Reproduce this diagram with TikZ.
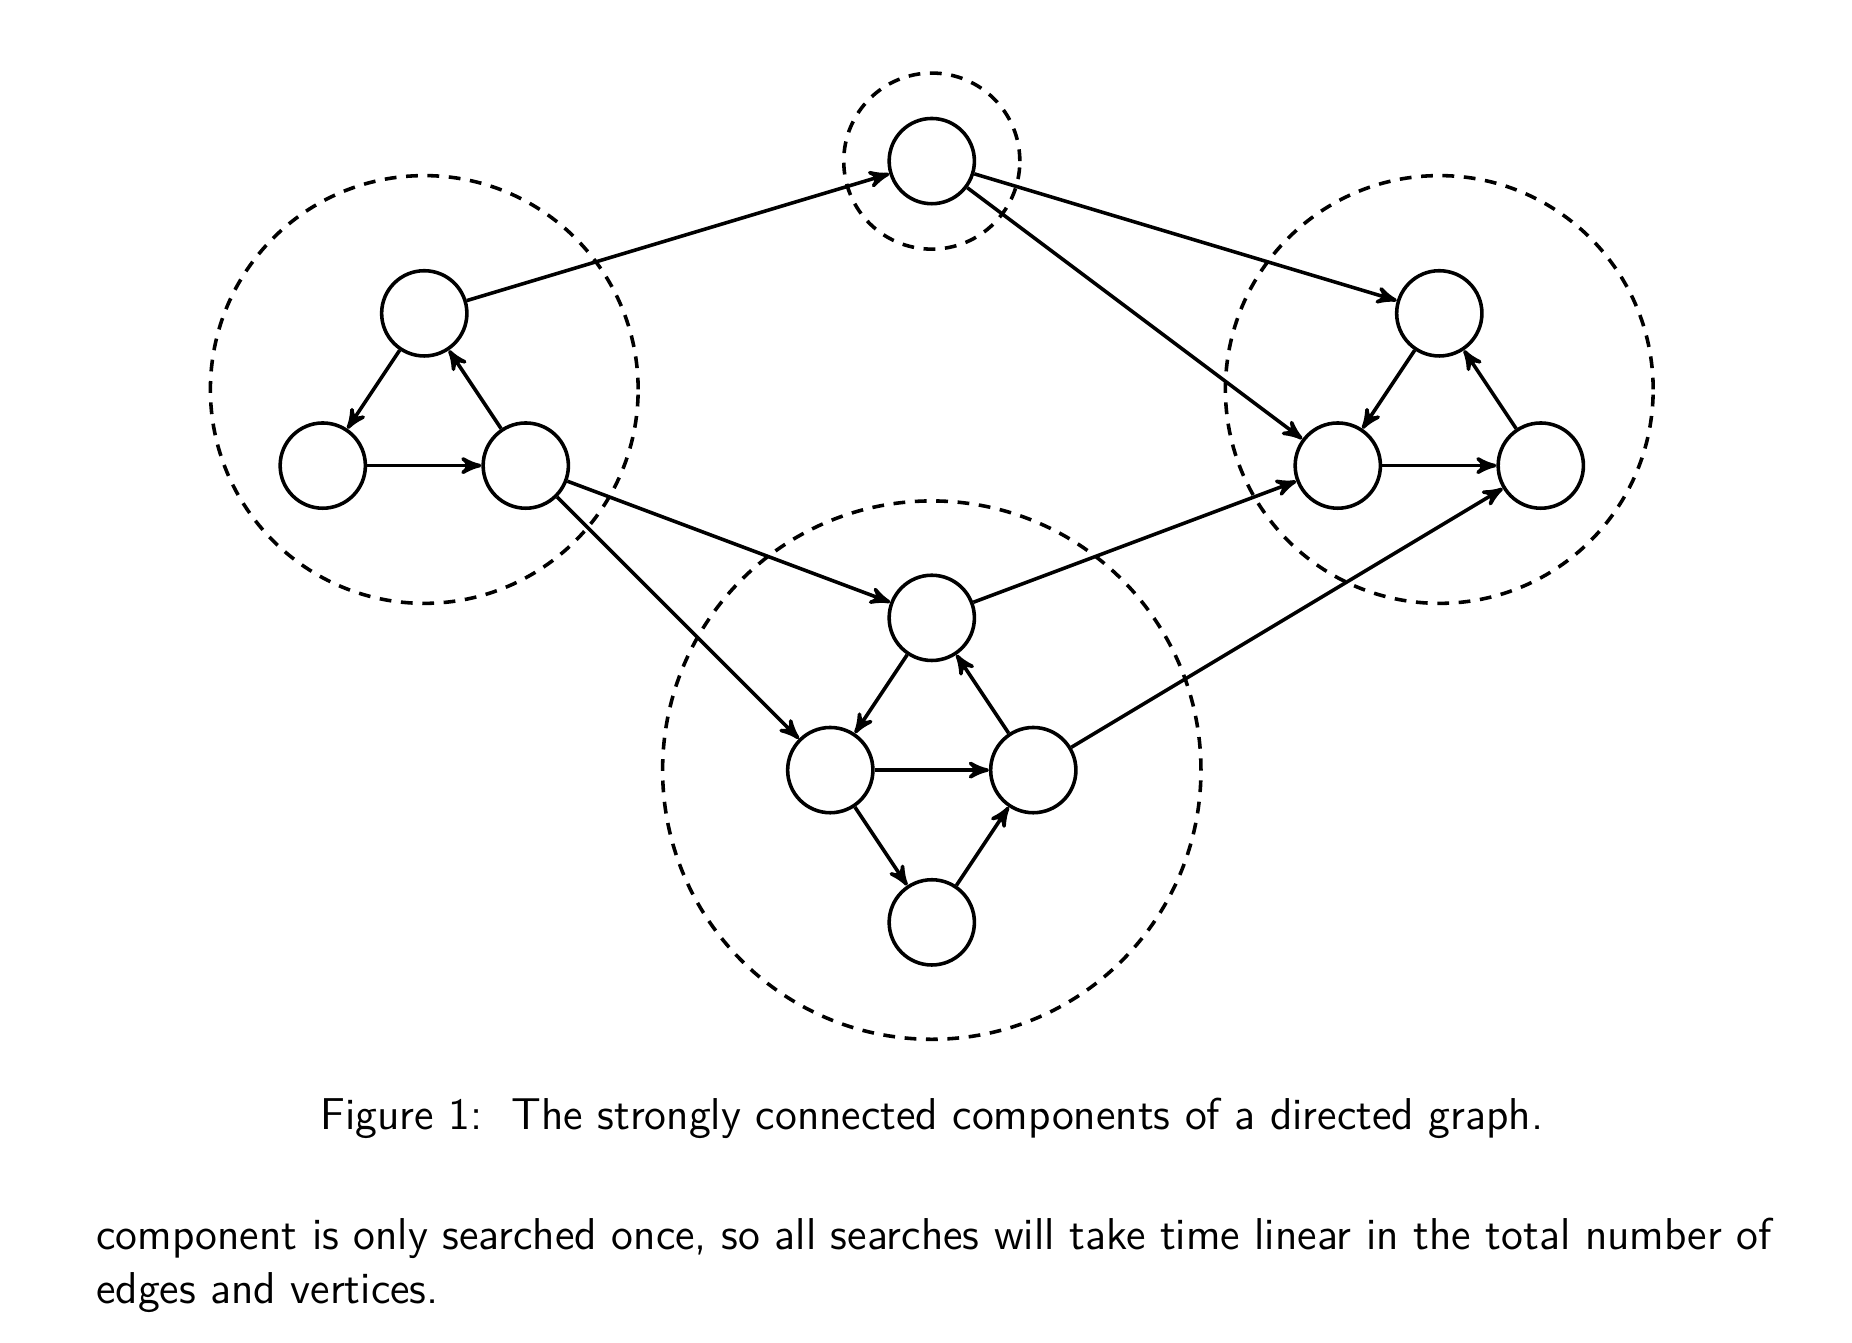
\documentclass[tikz,border=0pt]{standalone}
\usepackage{fontspec}
\usepackage{tikz}
\usetikzlibrary{arrows,positioning,fit}

\begin{document}
\begin{tikzpicture}[%
    >=stealth',                  % small filled arrow heads
    node distance=1.5cm and 1cm, % spacing inside one component
    line width=1pt,
    every node/.style={font=\sffamily\fontsize{12.5}{15}\selectfont}]
% -------------------------------------------------
% Styles for the vertices and the components
\tikzset{
  vertex/.style={draw, circle, on grid, minimum size=0.84cm, inner sep=0pt},
  comp/.style={draw, circle, dash pattern=on 3.3pt off 2.7pt, inner sep=5pt},
  arc/.style={->, draw}
}
\useasboundingbox (-4.18,3.087) rectangle (14.066,-10.135);
% -------------------------------------------------
% Left component
\node [vertex] (l1) at (0,0) {};
\node [vertex, below left=of l1] (l2) {};
\node [vertex, below right=of l1] (l3) {};
% Single vertex at the top
\node [vertex] (s1) at (5,1.5) {};
% Right component
\node [vertex] (r1) at (10,0) {};
\node [vertex, below left=of r1] (r2) {};
\node [vertex, below right=of r1] (r3) {};
% Bottom component
\node [vertex] (m1) at (5,-3) {};
\node [vertex, below left=of m1] (m2) {};
\node [vertex, below right=of m1] (m3) {};
\node [vertex, below right=of m2] (m4) {};

% -------------------------------------------------
% Dashed circles round the strongly connected components
\node [comp, fit=(l1) (l2) (l3)] (ca) {};
\node [comp, fit=(s1)] (cb) {};
\node [comp, fit=(r1) (r2) (r3)] (cc) {};
\node [comp, fit=(m1) (m2) (m3) (m4)] (cd) {};

% -------------------------------------------------
% Arcs
\foreach \a/\b in {l1/l2, l2/l3, l3/l1, l1/s1, s1/r1, s1/r2,
                   l3/m1, l3/m2, m1/m2, m2/m3, m3/m1, m2/m4, m4/m3,
                   m1/r2, m3/r3, r1/r2, r2/r3, r3/r1}
  \draw [arc] (\a) -- (\b);

% -------------------------------------------------
% Caption and the text below it
\node [anchor=base, inner sep=0pt] (cap) at (5,-8.036)
  {Figure 1:\ \ The strongly connected components of a directed graph.};
\node [anchor=base west, inner sep=0pt, text width=16.51cm, align=justify] (txt)
  at (-3.249,-9.224)
  {component is only searched once, so all searches will take time linear in
   the total number of edges and vertices.};
\end{tikzpicture}
\end{document}
